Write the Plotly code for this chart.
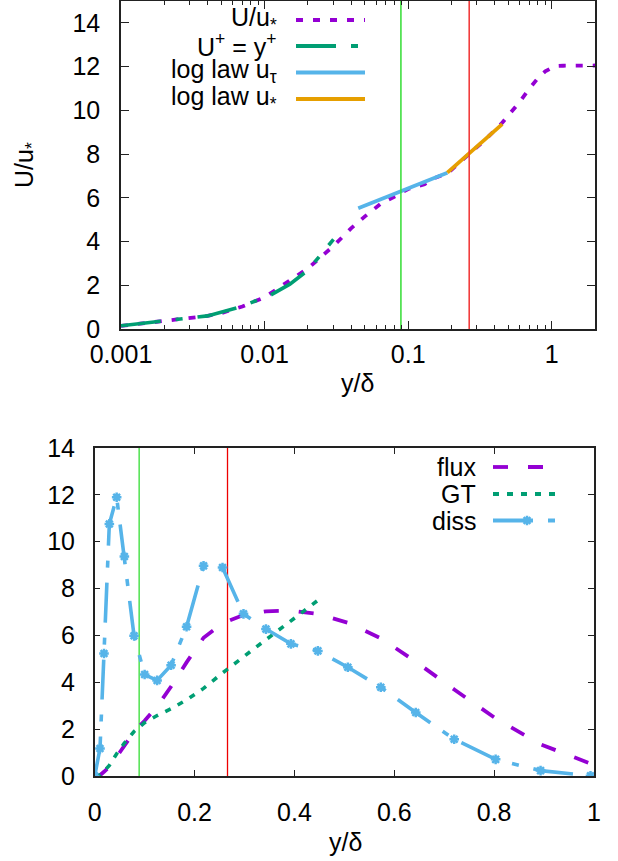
import plotly.graph_objects as go

W, H = 618, 861

# ---------------- top panel data (log y/delta) ----------------
U_y = [0.001, 0.0015, 0.002, 0.003, 0.004, 0.005, 0.007, 0.01, 0.015, 0.02, 0.03, 0.04,
       0.05, 0.065, 0.08, 0.1, 0.13, 0.15, 0.19, 0.28, 0.35, 0.45, 0.6, 0.7, 0.8, 0.9,
       1.05, 1.2, 2.0]
U_val = [0.14, 0.27, 0.37, 0.5, 0.6, 0.73, 1.03, 1.45, 2.2, 2.77, 3.78, 4.6,
         5.15, 5.75, 6.05, 6.4, 6.62, 6.88, 7.15, 8.1, 8.7, 9.42, 10.4, 11.0, 11.47, 11.78,
         12.02, 12.04, 12.05]
Uplus_y = [0.001, 0.002, 0.004, 0.0067, 0.011, 0.015, 0.02, 0.0302]
Uplus_val = [0.15, 0.37, 0.6, 1.0, 1.55, 2.05, 2.68, 4.1]
logtau_y = [0.0449, 0.1875]
logtau_val = [5.52, 7.15]
logstar_y = [0.1875, 0.452]
logstar_val = [7.15, 9.37]
line_green = 0.089
line_red = 0.266
top_tickvals = [0.001, 0.01, 0.1, 1]
top_ticktext = ["0.001", "0.01", "0.1", "1"]

# ---------------- bottom panel data ----------------
yd = [0.0, 0.0106, 0.0186, 0.0293, 0.044, 0.0594, 0.0788, 0.100, 0.125, 0.153, 0.184,
      0.218, 0.256, 0.298, 0.343, 0.393, 0.447, 0.507, 0.573, 0.643, 0.720, 0.803,
      0.893, 0.993]
diss = [0.0, 1.17, 5.23, 10.76, 11.9, 9.37, 5.99, 4.33, 4.08, 4.73, 6.37,
        8.97, 8.9, 6.92, 6.27, 5.64, 5.34, 4.64, 3.79, 2.71, 1.57, 0.71,
        0.23, 0.01]
flux = [0.0, 0.03, 0.18, 0.4, 0.82, 1.3, 1.88, 2.36, 2.97, 3.82, 4.85,
        5.9, 6.52, 6.87, 7.03, 7.06, 6.92, 6.54, 5.88, 4.88, 3.69, 2.46,
        1.35, 0.53]
gt_y = yd[:17]
gt = [0.0, 0.05, 0.2, 0.45, 0.95, 1.4, 1.9, 2.28, 2.58, 2.87, 3.25,
      3.74, 4.4, 5.1, 5.82, 6.62, 7.5]

PURPLE = "#9400D3"
GREEN = "#009E73"
BLUE = "#56B4E9"
ORANGE = "#E69F00"
VGREEN = "#33dd33"
VRED = "#f03030"

FONT = "Liberation Sans, Arial, sans-serif"
FS = 25

DASH_PURPLE = "7px,10px"
DASH_GREEN = "40px,15px,7px,15px"
DASH_FLUX = "15px,20px"
DASH_GT = "6px,8px"
DASH_DISS = "40px,15px,7px,15px"

fig = go.Figure()

# top traces
fig.add_trace(go.Scatter(x=U_y, y=U_val, mode="lines", xaxis="x", yaxis="y",
                         line=dict(color=PURPLE, width=3.8, dash=DASH_PURPLE)))
fig.add_trace(go.Scatter(x=Uplus_y, y=Uplus_val, mode="lines", xaxis="x", yaxis="y",
                         line=dict(color=GREEN, width=3.6, dash=DASH_GREEN)))
fig.add_trace(go.Scatter(x=logtau_y, y=logtau_val, mode="lines", xaxis="x", yaxis="y",
                         line=dict(color=BLUE, width=3.8)))
fig.add_trace(go.Scatter(x=logstar_y, y=logstar_val, mode="lines", xaxis="x", yaxis="y",
                         line=dict(color=ORANGE, width=3.8)))
fig.add_trace(go.Scatter(x=[line_green, line_green], y=[0, 15], mode="lines", xaxis="x", yaxis="y",
                         line=dict(color=VGREEN, width=1.5)))
fig.add_trace(go.Scatter(x=[line_red, line_red], y=[0, 15], mode="lines", xaxis="x", yaxis="y",
                         line=dict(color=VRED, width=1.5)))

# bottom traces
fig.add_trace(go.Scatter(x=[line_green, line_green], y=[0, 14], mode="lines", xaxis="x2", yaxis="y2",
                         line=dict(color=VGREEN, width=1.3)))
fig.add_trace(go.Scatter(x=[line_red, line_red], y=[0, 14], mode="lines", xaxis="x2", yaxis="y2",
                         line=dict(color="#ee0000", width=1.3)))
fig.add_trace(go.Scatter(x=yd, y=flux, mode="lines", xaxis="x2", yaxis="y2",
                         line=dict(color=PURPLE, width=3.8, dash=DASH_FLUX)))
fig.add_trace(go.Scatter(x=gt_y, y=gt, mode="lines", xaxis="x2", yaxis="y2",
                         line=dict(color=GREEN, width=3.6, dash=DASH_GT)))
fig.add_trace(go.Scatter(x=yd, y=diss, mode="lines+markers", xaxis="x2", yaxis="y2",
                         line=dict(color=BLUE, width=3.6, dash=DASH_DISS),
                         marker=dict(symbol="asterisk-open", size=8, color=BLUE,
                                     line=dict(color=BLUE, width=2.5))))

# ---------------- manual legends (overlay pixel axes) ----------------
top_leg = [("U/u<sub>*</sub>", PURPLE, DASH_PURPLE, 20),
           ("U<sup>+</sup> = y<sup>+</sup>", GREEN, DASH_GREEN, 46),
           ("log law u<sub>τ</sub>", BLUE, "solid", 72.5),
           ("log law u<sub>*</sub>", ORANGE, "solid", 99)]
annotations = []
for txt, col, dsh, yy in top_leg:
    fig.add_trace(go.Scatter(x=[296, 365], y=[yy, yy], mode="lines", xaxis="x3", yaxis="y3",
                             line=dict(color=col, width=3.8, dash=dsh)))
    annotations.append(dict(text=txt, x=279 / W, y=1 - (yy - 1) / H, xref="paper", yref="paper",
                            xanchor="right", yanchor="middle", showarrow=False,
                            font=dict(family=FONT, size=FS, color="black")))

bot_leg = [("flux", PURPLE, DASH_FLUX, 467),
           ("GT", GREEN, DASH_GT, 494),
           ("diss", BLUE, DASH_DISS, 520.5)]
for txt, col, dsh, yy in bot_leg:
    fig.add_trace(go.Scatter(x=[493, 558], y=[yy, yy], mode="lines", xaxis="x3", yaxis="y3",
                             line=dict(color=col, width=3.8, dash=dsh)))
    annotations.append(dict(text=txt, x=478 / W, y=1 - yy / H, xref="paper", yref="paper",
                            xanchor="right", yanchor="middle", showarrow=False,
                            font=dict(family=FONT, size=FS, color="black")))
fig.add_trace(go.Scatter(x=[527], y=[520.5], mode="markers", xaxis="x3", yaxis="y3",
                         marker=dict(symbol="asterisk-open", size=8, color=BLUE,
                                     line=dict(color=BLUE, width=2.5))))

# axis titles
annotations.append(dict(text="y/δ", x=357 / W, y=1 - 383 / H, xref="paper", yref="paper",
                        xanchor="center", yanchor="middle", showarrow=False,
                        font=dict(family=FONT, size=FS, color="black")))
annotations.append(dict(text="y/δ", x=345 / W, y=1 - 842 / H, xref="paper", yref="paper",
                        xanchor="center", yanchor="middle", showarrow=False,
                        font=dict(family=FONT, size=FS, color="black")))
annotations.append(dict(text="U/u<sub>*</sub>", x=26 / W, y=1 - 165 / H, xref="paper", yref="paper",
                        xanchor="center", yanchor="middle", showarrow=False, textangle=-90,
                        font=dict(family=FONT, size=FS, color="black")))

axis_common = dict(showline=True, linecolor="#222", linewidth=1.5, mirror="ticks",
                   ticks="inside", tickcolor="#222", tickwidth=1.2, showgrid=False,
                   zeroline=False, automargin=False,
                   tickfont=dict(family=FONT, size=FS, color="black"))

fig.update_layout(
    width=W, height=H,
    margin=dict(l=0, r=0, t=0, b=0, autoexpand=False),
    paper_bgcolor="white", plot_bgcolor="rgba(0,0,0,0)",
    showlegend=False,
    annotations=annotations,
    xaxis=dict(domain=[121 / W, 595 / W], anchor="y", type="log", range=[-3, 0.30103],
               tickvals=top_tickvals, ticktext=top_ticktext, ticklen=8,
               ticklabelstandoff=2,
               minor=dict(ticks="inside", ticklen=4, tickcolor="#222", dtick="D1", showgrid=False),
               **axis_common),
    yaxis=dict(domain=[1 - 329 / H, 1 - 1 / H], anchor="x", range=[0, 15], dtick=2, tick0=0,
               ticklen=8, ticklabelstandoff=14, **axis_common),
    xaxis2=dict(domain=[94.7 / W, 594 / W], anchor="y2", range=[0, 1], dtick=0.2, tick0=0,
                ticklen=6, ticklabelstandoff=13, **axis_common),
    yaxis2=dict(domain=[1 - 776 / H, 1 - 448 / H], anchor="x2", range=[0, 14], dtick=2, tick0=0,
                ticklen=6, ticklabelstandoff=13, **axis_common),
    xaxis3=dict(domain=[0, 1], anchor="y3", range=[0, W], visible=False, fixedrange=True,
                automargin=False),
    yaxis3=dict(domain=[0, 1], anchor="x3", range=[H, 0], visible=False, fixedrange=True,
                automargin=False),
)

fig.write_html("out.html")
